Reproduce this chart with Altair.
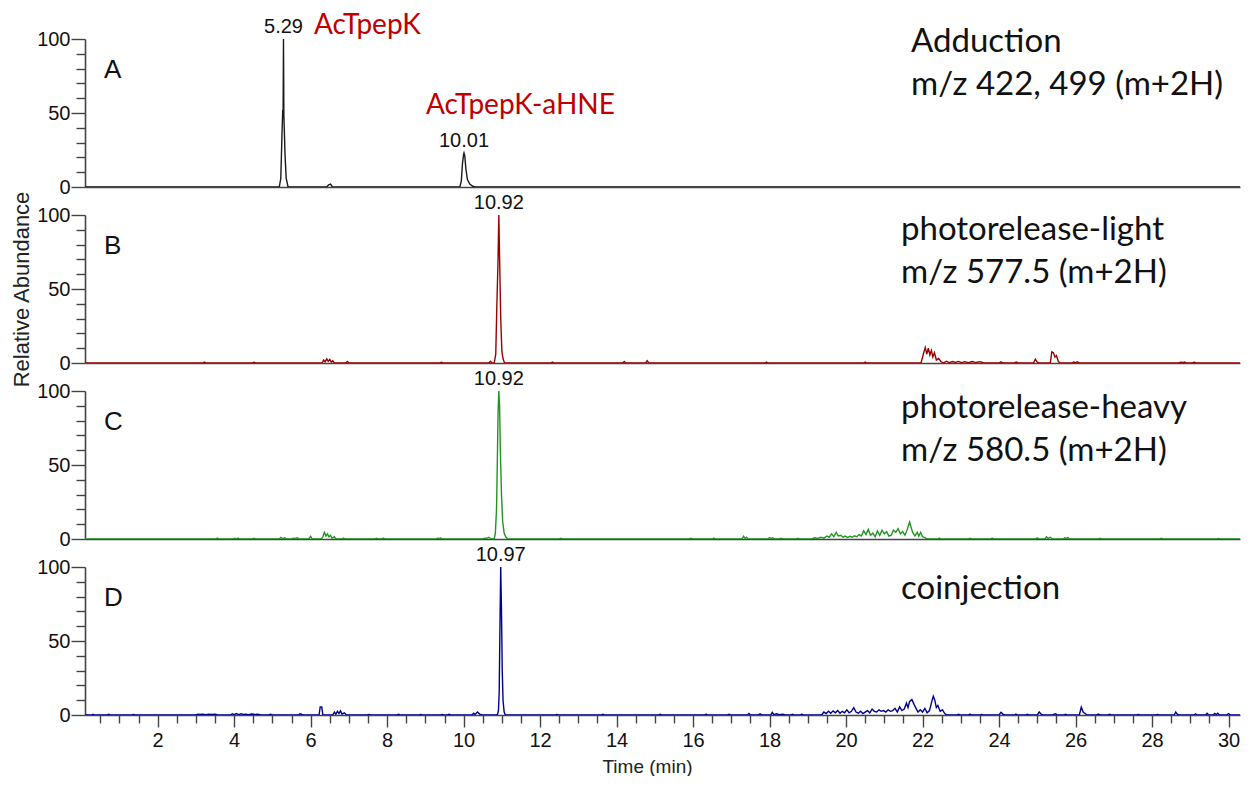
import altair as alt
import pandas as pd

# ---------------- data ----------------
X_DOMAIN = [0.1, 30.3]
Y_DOMAIN = [0, 100]
X_TICKS = [i * 0.5 for i in range(1, 61)]
Y_TICKS = [0, 10, 20, 30, 40, 50, 60, 70, 80, 90, 100]

PANEL_LETTERS = ["A", "B", "C", "D"]
PANEL_TEXTS = [
    "Adduction\nm/z 422, 499 (m+2H)",
    "photorelease-light\nm/z 577.5 (m+2H)",
    "photorelease-heavy\nm/z 580.5 (m+2H)",
    "coinjection",
]
TRACE_COLORS = ["#1a1a1a", "#990000", "#1f961f", "#000090"]

COMPOUND_LABELS = ["AcTpepK", "AcTpepK-aHNE"]

# (time in min, relative abundance)
TRACE_A = [
    (0.10, 0), (5.18, 0), (5.22, 6), (5.25, 35), (5.27, 52), (5.28, 50), (5.29, 100),
    (5.30, 48), (5.31, 40), (5.33, 22), (5.36, 6), (5.41, 0),
    (6.42, 0), (6.47, 1.5), (6.52, 2), (6.57, 0),
    (9.90, 0), (9.94, 4), (9.97, 16), (10.00, 22), (10.01, 23), (10.03, 21), (10.06, 12),
    (10.10, 5), (10.16, 2), (10.24, 0.5), (10.30, 0), (30.30, 0),
]

TRACE_B = [
    (0.10, 0), (3.18, 0), (3.22, 0.6), (3.26, 0), (4.48, 0), (4.52, 0.5), (4.56, 0),
    (6.30, 0), (6.34, 2.0), (6.38, 0.8), (6.42, 2.8), (6.46, 1.2), (6.50, 2.4), (6.54, 0.6),
    (6.58, 1.5), (6.62, 0), (6.92, 0), (6.96, 1.0), (7.00, 0), (9.38, 0), (9.42, 0.5), (9.46, 0),
    (10.66, 0), (10.70, 1.2), (10.74, 0),
    (10.80, 0), (10.84, 6), (10.87, 40), (10.90, 70), (10.92, 100), (10.94, 72), (10.97, 30),
    (11.00, 8), (11.03, 3), (11.07, 0),
    (12.28, 0), (12.32, 0.6), (12.36, 0), (14.16, 0), (14.20, 1.0), (14.24, 0),
    (14.76, 0), (14.80, 1.5), (14.84, 0), (17.88, 0), (17.92, 0.6), (17.96, 0),
    (20.46, 0), (20.50, 0.6), (20.54, 0),
    (21.96, 0), (22.02, 6), (22.07, 10.5), (22.11, 6), (22.15, 10), (22.19, 5.5), (22.23, 8.5),
    (22.27, 4), (22.31, 7), (22.36, 2), (22.42, 3), (22.48, 1), (22.55, 0), (22.62, 1.2),
    (22.70, 0.3), (22.78, 1.0), (22.86, 0.4), (22.94, 1.1), (23.02, 0.3), (23.10, 0.9),
    (23.20, 0.2), (23.30, 1.0), (23.40, 0.3), (23.50, 0.9), (23.60, 0),
    (24.00, 0), (24.05, 0.8), (24.10, 0), (24.40, 0), (24.45, 0.6), (24.50, 0),
    (24.90, 0), (24.95, 2.6), (25.00, 0.5), (25.05, 0),
    (25.34, 0), (25.38, 7.5), (25.42, 7), (25.46, 4), (25.50, 5), (25.55, 1), (25.60, 0),
    (25.90, 0), (25.95, 0.7), (26.00, 0.3), (26.05, 0.8), (26.10, 0),
    (28.70, 0), (28.75, 0.6), (28.80, 0.3), (28.85, 0.7), (28.90, 0), (29.05, 0), (29.10, 0.5),
    (29.15, 0), (30.30, 0),
]

TRACE_C = [
    (0.10, 0), (3.52, 0), (3.56, 0.6), (3.60, 0), (3.98, 0), (4.02, 0.5), (4.06, 0),
    (4.10, 0.6), (4.14, 0), (4.48, 0), (4.52, 0.5), (4.56, 0),
    (5.18, 0), (5.22, 1.0), (5.26, 0.3), (5.32, 0.8), (5.38, 0), (5.50, 0), (5.55, 0.6),
    (5.60, 0.4), (5.65, 0.8), (5.70, 0), (5.95, 0), (6.00, 1.8), (6.04, 0),
    (6.28, 0), (6.32, 1.5), (6.36, 4.5), (6.40, 2), (6.44, 3.5), (6.48, 1.5), (6.52, 2.5),
    (6.56, 0.5), (6.62, 1.5), (6.66, 0), (6.82, 0), (6.86, 0.6), (6.90, 0),
    (7.68, 0), (7.72, 0.5), (7.76, 0), (7.86, 0), (7.90, 0.6), (7.94, 0),
    (9.28, 0), (9.32, 0.5), (9.36, 0.4), (9.40, 0.6), (9.44, 0),
    (10.50, 0), (10.55, 0.6), (10.60, 0.4), (10.66, 1.2), (10.72, 0),
    (10.80, 0), (10.83, 4), (10.86, 20), (10.88, 50), (10.90, 85), (10.92, 100), (10.94, 90),
    (10.96, 60), (10.99, 30), (11.02, 12), (11.06, 4), (11.10, 1.5), (11.15, 0),
    (12.50, 0), (12.54, 0.5), (12.58, 0), (15.90, 0), (15.94, 0.5), (15.98, 0),
    (16.50, 0), (16.54, 0.6), (16.58, 0),
    (17.28, 0), (17.32, 1.8), (17.36, 0.4), (17.40, 1.2), (17.44, 0),
    (17.95, 0), (18.00, 1.0), (18.04, 0.3), (18.08, 0.8), (18.12, 0), (18.26, 0), (18.30, 0.5),
    (18.34, 0), (18.70, 0), (18.74, 0.5), (18.78, 0),
    (19.10, 0), (19.18, 0.8), (19.26, 0.4), (19.34, 1.2), (19.42, 0.6), (19.50, 2.0),
    (19.56, 1.2), (19.62, 3.5), (19.68, 1.5), (19.74, 4.5), (19.80, 2), (19.86, 2.5),
    (19.92, 1.2), (19.98, 2.0), (20.04, 1.0), (20.10, 1.8), (20.16, 1.2), (20.22, 2.2),
    (20.28, 1.5), (20.34, 3.0), (20.40, 2.0), (20.46, 5.5), (20.52, 3), (20.58, 6.5),
    (20.64, 2.5), (20.70, 4), (20.76, 1.5), (20.82, 5.5), (20.88, 2.5), (20.94, 6),
    (21.00, 3.5), (21.06, 5), (21.12, 2), (21.18, 2.5), (21.24, 6), (21.30, 4.5), (21.36, 7),
    (21.42, 3.5), (21.48, 5), (21.54, 2.5), (21.60, 6.5), (21.66, 11.5), (21.70, 8),
    (21.74, 4.5), (21.80, 2), (21.86, 4.5), (21.90, 2), (21.95, 4.5), (22.00, 1.5),
    (22.06, 1.0), (22.12, 0),
    (22.40, 0), (22.44, 0.6), (22.48, 0), (23.20, 0), (23.24, 0.5), (23.28, 0),
    (23.78, 0), (23.82, 0.6), (23.86, 0),
    (24.95, 0), (25.00, 0.8), (25.04, 0), (25.20, 0), (25.24, 1.5), (25.28, 0.4), (25.34, 1.2),
    (25.40, 0), (25.68, 0), (25.72, 0.8), (25.76, 0.3), (25.80, 1.0), (25.84, 0),
    (26.60, 0), (26.64, 0.5), (26.68, 0), (28.20, 0), (28.24, 0.5), (28.28, 0),
    (29.70, 0), (29.74, 0.4), (29.78, 0), (30.30, 0),
]

TRACE_D = [
    (0.10, 0), (0.28, 0), (0.31, 0.5), (0.34, 0), (0.68, 0), (0.72, 0.5), (0.76, 0),
    (1.33, 0), (1.37, 0.4), (1.41, 0),
    (3.00, 0), (3.05, 0.5), (3.10, 0.3), (3.18, 0.6), (3.26, 0.2), (3.34, 0.5), (3.42, 0.3),
    (3.50, 0.6), (3.58, 0),
    (3.90, 0), (3.95, 0.8), (4.00, 0.2), (4.06, 1.0), (4.12, 0.3), (4.18, 0.8), (4.24, 0.4),
    (4.30, 0.6), (4.38, 0.2), (4.46, 0.7), (4.54, 0.3), (4.62, 0.5), (4.70, 0),
    (4.90, 0), (4.95, 0.5), (5.00, 0), (5.68, 0), (5.72, 0.8), (5.76, 0.6), (5.80, 0),
    (6.22, 0), (6.25, 5.5), (6.29, 5.5), (6.32, 0),
    (6.58, 0), (6.62, 2.0), (6.66, 0.5), (6.70, 2.5), (6.74, 1.0), (6.78, 2.8), (6.82, 0.6),
    (6.88, 1.5), (6.94, 0),
    (7.48, 0), (7.52, 0.4), (7.56, 0), (8.26, 0), (8.30, 0.5), (8.34, 0),
    (8.84, 0), (8.88, 0.4), (8.92, 0), (9.40, 0), (9.44, 0.4), (9.48, 0), (9.58, 0),
    (9.62, 0.5), (9.66, 0),
    (10.22, 0), (10.26, 1.2), (10.30, 0.4), (10.36, 2.0), (10.42, 0.6), (10.48, 0),
    (10.88, 0), (10.91, 3), (10.93, 15), (10.95, 60), (10.97, 100), (10.99, 70), (11.01, 30),
    (11.03, 10), (11.06, 2), (11.09, 0),
    (12.40, 0), (12.44, 0.4), (12.48, 0), (13.60, 0), (13.64, 0.5), (13.68, 0),
    (15.10, 0), (15.14, 0.5), (15.18, 0), (16.30, 0), (16.34, 0.6), (16.38, 0),
    (16.90, 0), (16.94, 0.5), (16.98, 0), (17.42, 0), (17.46, 1.0), (17.50, 0),
    (17.70, 0), (17.75, 0.8), (17.80, 0),
    (18.03, 0), (18.07, 1.8), (18.11, 0.3), (18.18, 0.8), (18.26, 0.2), (18.34, 0.6),
    (18.42, 0), (18.56, 0), (18.60, 0.5), (18.64, 0), (18.80, 0), (18.84, 0.6), (18.88, 0),
    (19.36, 0), (19.42, 2), (19.48, 1), (19.54, 2.5), (19.60, 1.2), (19.66, 2.8), (19.72, 1.5),
    (19.78, 3), (19.84, 1.2), (19.90, 2.5), (19.96, 1.5), (20.02, 3.5), (20.08, 1.5),
    (20.14, 2.5), (20.20, 5), (20.26, 2), (20.32, 1.2), (20.38, 2.5), (20.44, 1), (20.50, 2),
    (20.56, 3), (20.62, 1.5), (20.68, 4), (20.74, 2.5), (20.80, 2), (20.86, 3.5), (20.92, 2.5),
    (20.98, 3), (21.04, 2), (21.10, 3.5), (21.16, 2.5), (21.22, 3), (21.28, 4.5), (21.34, 2),
    (21.40, 5.5), (21.46, 3), (21.52, 4), (21.58, 8), (21.62, 5), (21.66, 9), (21.72, 10.5),
    (21.78, 7), (21.84, 4), (21.88, 2), (21.94, 3.5), (22.00, 2), (22.06, 4.5), (22.12, 1.5),
    (22.18, 3), (22.24, 9), (22.28, 12.7), (22.32, 10), (22.36, 5), (22.40, 6.5), (22.46, 2.5),
    (22.52, 3.5), (22.58, 1), (22.64, 0),
    (22.90, 0), (22.94, 0.5), (22.98, 0), (23.20, 0), (23.24, 0.6), (23.28, 0),
    (23.50, 0), (23.54, 0.4), (23.58, 0), (24.00, 0), (24.05, 1.8), (24.10, 0.6), (24.15, 0),
    (24.40, 0), (24.44, 0.6), (24.48, 0), (24.70, 0), (24.74, 0.5), (24.78, 0),
    (25.00, 0), (25.05, 2.0), (25.10, 0.5), (25.15, 0),
    (25.40, 0), (25.44, 0.6), (25.48, 0.8), (25.52, 0), (25.70, 0), (25.74, 0.5), (25.78, 0),
    (26.10, 0), (26.15, 5.4), (26.20, 2), (26.25, 1), (26.30, 0),
    (26.55, 0), (26.60, 0.6), (26.64, 0), (26.85, 0), (26.89, 0.5), (26.93, 0),
    (27.60, 0), (27.64, 0.4), (27.68, 0), (28.10, 0), (28.14, 0.4), (28.18, 0),
    (28.58, 0), (28.62, 2), (28.66, 0.6), (28.70, 0),
    (29.10, 0), (29.14, 0.8), (29.18, 0), (29.40, 0), (29.44, 1.2), (29.48, 0),
    (29.60, 0), (29.64, 1.0), (29.68, 0.3), (29.72, 1.2), (29.76, 0),
    (29.95, 0), (30.00, 1.0), (30.05, 0), (30.30, 0),
]

PEAKS_A = [(5.29, 100, "5.29"), (10.01, 23, "10.01")]
PEAKS_B = [(10.92, 100, "10.92")]
PEAKS_C = [(10.92, 100, "10.92")]
PEAKS_D = [(10.97, 100, "10.97")]

# ---------------- styling ----------------
W, H = 1155, 148
AXIS_COLOR = "#444444"
ARIAL = "Liberation Sans"
CALIBRI = "Lato"


def panel(points, peaks, color, letter, text, text_x, text_y, bottom, ytitle, extra=None):
    df = pd.DataFrame(points, columns=["time", "abund"])
    if bottom:
        x_axis = alt.Axis(
            values=X_TICKS,
            labelExpr="datum.value % 2 === 0 ? format(datum.value, 'd') : ''",
            tickSize={"condition": {"test": "datum.value % 2 === 0", "value": 12}, "value": 8},
            labelOverlap=False,
            labelFlush=False,
            labelFontSize=20,
            labelPadding=3,
            title="Time (min)",
            titleFontSize=19,
            titleFontWeight="normal",
            titlePadding=7,
            titleX=562,
            grid=False,
        )
    else:
        x_axis = alt.Axis(labels=False, ticks=False, title=None, grid=False)
    y_kwargs = dict(
        values=Y_TICKS,
        labelExpr="datum.value % 50 === 0 ? datum.label : ''",
        tickSize={"condition": {"test": "datum.value % 50 === 0", "value": 14}, "value": 9},
        labelOverlap=False,
        labelFlush=False,
        labelFontSize=20,
        labelPadding=1,
        grid=False,
    )
    if ytitle:
        y_axis = alt.Axis(title=ytitle, titleFontSize=22, titleFontWeight="normal",
                          titlePadding=3, **y_kwargs)
    else:
        y_axis = alt.Axis(title=None, **y_kwargs)

    xenc = alt.X("time:Q", scale=alt.Scale(domain=X_DOMAIN, nice=False, zero=False), axis=x_axis)
    yenc = alt.Y("abund:Q", scale=alt.Scale(domain=Y_DOMAIN, nice=False), axis=y_axis)

    line = alt.Chart(df).mark_line(color=color, strokeWidth=1.4, clip=True).encode(x=xenc, y=yenc)

    pk = pd.DataFrame(peaks, columns=["time", "abund", "label"])
    peak_text = alt.Chart(pk).mark_text(
        font=ARIAL, fontSize=20, baseline="alphabetic", dy=-6, color="#111111"
    ).encode(x=xenc, y=yenc, text="label:N")

    let = alt.Chart(pd.DataFrame({"label": [letter]})).mark_text(
        font=ARIAL, fontSize=26, align="left", baseline="middle", color="#111111"
    ).encode(x=alt.value(19), y=alt.value(31), text="label:N")

    desc = alt.Chart(pd.DataFrame({"label": [text]})).mark_text(
        font=CALIBRI, fontSize=33, align="left", baseline="alphabetic",
        lineBreak="\n", lineHeight=43, color="#111111"
    ).encode(x=alt.value(text_x), y=alt.value(text_y), text="label:N")

    layers = [line, peak_text, let, desc]
    if extra is not None:
        layers.extend(extra)
    return alt.layer(*layers).properties(width=W, height=H)


red_df = pd.DataFrame({"label": COMPOUND_LABELS})
red1 = alt.Chart(red_df.iloc[[0]]).mark_text(
    font=CALIBRI, fontSize=28, align="left", baseline="alphabetic", color="#c00000"
).encode(x=alt.value(229), y=alt.value(-5), text="label:N")
red2 = alt.Chart(red_df.iloc[[1]]).mark_text(
    font=CALIBRI, fontSize=28, align="left", baseline="alphabetic", color="#c00000"
).encode(x=alt.value(341), y=alt.value(75), text="label:N")

pA = panel(TRACE_A, PEAKS_A, TRACE_COLORS[0], PANEL_LETTERS[0], PANEL_TEXTS[0], 826, 13, False, None, [red1, red2])
pB = panel(TRACE_B, PEAKS_B, TRACE_COLORS[1], PANEL_LETTERS[1], PANEL_TEXTS[1], 816, 25, False, "Relative Abundance")
pC = panel(TRACE_C, PEAKS_C, TRACE_COLORS[2], PANEL_LETTERS[2], PANEL_TEXTS[2], 816, 27, False, None)
pD = panel(TRACE_D, PEAKS_D, TRACE_COLORS[3], PANEL_LETTERS[3], PANEL_TEXTS[3], 816, 32, True, None)

chart = alt.vconcat(pA, pB, pC, pD, spacing=28, bounds="flush").properties(
    padding={"left": 2, "top": 4, "right": 1, "bottom": 0}
).configure_view(strokeWidth=0).configure_axis(
    domainColor=AXIS_COLOR, domainWidth=1.6, tickColor=AXIS_COLOR, tickWidth=1.4,
    labelColor="#111111", titleColor="#222222", labelFont=ARIAL, titleFont=ARIAL,
)

chart.save("out.html", embed_options={"renderer": "svg", "actions": False})
